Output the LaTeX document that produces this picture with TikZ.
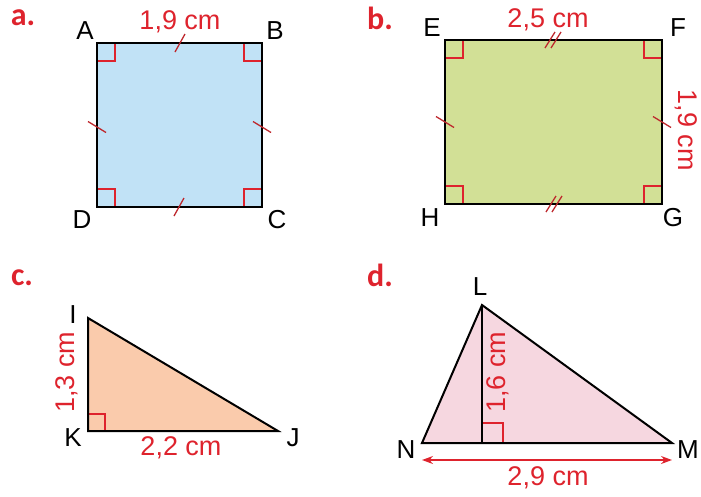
\documentclass[tikz,border=0pt]{standalone}
\usepackage{fontspec}
\setmainfont{Liberation Sans}
\newfontfamily\labfont{Carlito}
\usetikzlibrary{arrows.meta}
\definecolor{lred}{RGB}{222,35,45}
\definecolor{tred}{RGB}{190,40,45}
\definecolor{fblue}{RGB}{193,226,246}
\definecolor{fgreen}{RGB}{210,224,150}
\definecolor{forange}{RGB}{250,203,172}
\definecolor{fpink}{RGB}{246,215,224}
\begin{document}
\begin{tikzpicture}[x=1pt,y=-1pt,
 edge/.style={draw=black,line width=2pt,line join=miter},
 ramark/.style={draw=lred,line width=1.2pt},
 tickmark/.style={draw=tred,line width=1.3pt},
 vlab/.style={font=\fontsize{26}{26}\selectfont,inner sep=0pt},
 mlab/.style={font=\fontsize{27}{27}\selectfont,text=lred,inner sep=0pt},
 plab/.style={font=\labfont\bfseries\fontsize{32}{32}\selectfont,text=lred,inner sep=0pt}]
\useasboundingbox (0,0) rectangle (701,496);

% ---------- a. square ----------
\coordinate (A) at (97,43);
\coordinate (B) at (262,43);
\coordinate (C) at (262,207);
\coordinate (D) at (97,207);
\fill[fblue] (A) -- (B) -- (C) -- (D) -- cycle;
\draw[ramark] ([shift={(0,18)}]A) -- ++(18,0) -- ++(0,-18);
\draw[ramark] ([shift={(0,18)}]B) -- ++(-18,0) -- ++(0,-18);
\draw[ramark] ([shift={(0,-18)}]C) -- ++(-18,0) -- ++(0,18);
\draw[ramark] ([shift={(0,-18)}]D) -- ++(18,0) -- ++(0,18);
\draw[edge] (A) -- (B) -- (C) -- (D) -- cycle;
\coordinate (ab) at (180,43);
\coordinate (bc) at (262,127);
\coordinate (cd) at (179,207);
\coordinate (da) at (97,127);
\draw[tickmark] ([shift={(-5,9)}]ab) -- ([shift={(5,-9)}]ab);
\draw[tickmark] ([shift={(-5,9)}]cd) -- ([shift={(5,-9)}]cd);
\draw[tickmark] ([shift={(-9,-5.5)}]da) -- ([shift={(9,5.5)}]da);
\draw[tickmark] ([shift={(-9,-5.5)}]bc) -- ([shift={(9,5.5)}]bc);
\node[plab] (pa) at (23,18) {a.};
\node[vlab] (lA) at (85,31) {A};
\node[vlab] (lB) at (275,31) {B};
\node[vlab] (lC) at (277,220) {C};
\node[vlab] (lD) at (82,220) {D};
\node[mlab] (mab) at (180,22) {1,9 cm};

% ---------- b. rectangle ----------
\coordinate (E) at (445,40);
\coordinate (F) at (662,40);
\coordinate (G) at (662,204);
\coordinate (H) at (445,204);
\fill[fgreen] (E) -- (F) -- (G) -- (H) -- cycle;
\draw[ramark] ([shift={(0,18)}]E) -- ++(18,0) -- ++(0,-18);
\draw[ramark] ([shift={(0,18)}]F) -- ++(-18,0) -- ++(0,-18);
\draw[ramark] ([shift={(0,-18)}]G) -- ++(-18,0) -- ++(0,18);
\draw[ramark] ([shift={(0,-18)}]H) -- ++(18,0) -- ++(0,18);
\draw[edge] (E) -- (F) -- (G) -- (H) -- cycle;
\coordinate (ef1) at (550,40);
\coordinate (ef2) at (556,40);
\coordinate (hg1) at (551,204);
\coordinate (hg2) at (557,204);
\coordinate (fg) at (662,122);
\coordinate (he) at (445,122);
\draw[tickmark] ([shift={(-5,8)}]ef1) -- ([shift={(5,-8)}]ef1);
\draw[tickmark] ([shift={(-5,8)}]ef2) -- ([shift={(5,-8)}]ef2);
\draw[tickmark] ([shift={(-5,8)}]hg1) -- ([shift={(5,-8)}]hg1);
\draw[tickmark] ([shift={(-5,8)}]hg2) -- ([shift={(5,-8)}]hg2);
\draw[tickmark] ([shift={(-9,-5.5)}]he) -- ([shift={(9,5.5)}]he);
\draw[tickmark] ([shift={(-9,-5.5)}]fg) -- ([shift={(9,5.5)}]fg);
\node[plab] (pb) at (380,18) {b.};
\node[vlab] (lE) at (432,28) {E};
\node[vlab] (lF) at (678,28) {F};
\node[vlab] (lG) at (673,218) {G};
\node[vlab] (lH) at (430,218) {H};
\node[mlab] (mef) at (548,20) {2,5 cm};
\node[mlab,rotate=-90] (mfg) at (686,130) {1,9 cm};

% ---------- c. right triangle ----------
\coordinate (I) at (88,318);
\coordinate (K) at (88,431);
\coordinate (J) at (278,431);
\fill[forange] (I) -- (J) -- (K) -- cycle;
\draw[ramark] ([shift={(0,-17)}]K) -- ++(17,0) -- ++(0,17);
\draw[edge] (I) -- (J) -- (K) -- cycle;
\node[plab] (pc) at (22,278) {c.};
\node[vlab] (lI) at (73,315) {I};
\node[vlab] (lK) at (73,438) {K};
\node[vlab] (lJ) at (293,438) {J};
\node[mlab,rotate=90] (mik) at (67,372) {1,3 cm};
\node[mlab] (mkj) at (181,448) {2,2 cm};

% ---------- d. triangle with altitude ----------
\coordinate (L) at (482,305);
\coordinate (N) at (422,443);
\coordinate (M) at (672,443);
\coordinate (Hf) at (482,443);
\fill[fpink] (L) -- (M) -- (N) -- cycle;
\draw[ramark] ([shift={(0,-20)}]Hf) -- ++(21,0) -- ++(0,20);
\draw[black,line width=1.5pt] (L) -- (Hf);
\draw[edge] (L) -- (M) -- (N) -- cycle;
\coordinate (aN) at (422,460);
\coordinate (aM) at (672,460);
\draw[lred,line width=1.3pt,{Stealth[length=11pt,width=8pt]}-{Stealth[length=11pt,width=8pt]}] (aN) -- (aM);
\node[plab] (pd) at (380,275) {d.};
\node[vlab] (lL) at (480,287) {L};
\node[vlab] (lN) at (406,450) {N};
\node[vlab] (lM) at (688,450) {M};
\node[mlab,rotate=90] (mlh) at (498,372) {1,6 cm};
\node[mlab] (mnm) at (548,478) {2,9 cm};
\end{tikzpicture}
\end{document}
